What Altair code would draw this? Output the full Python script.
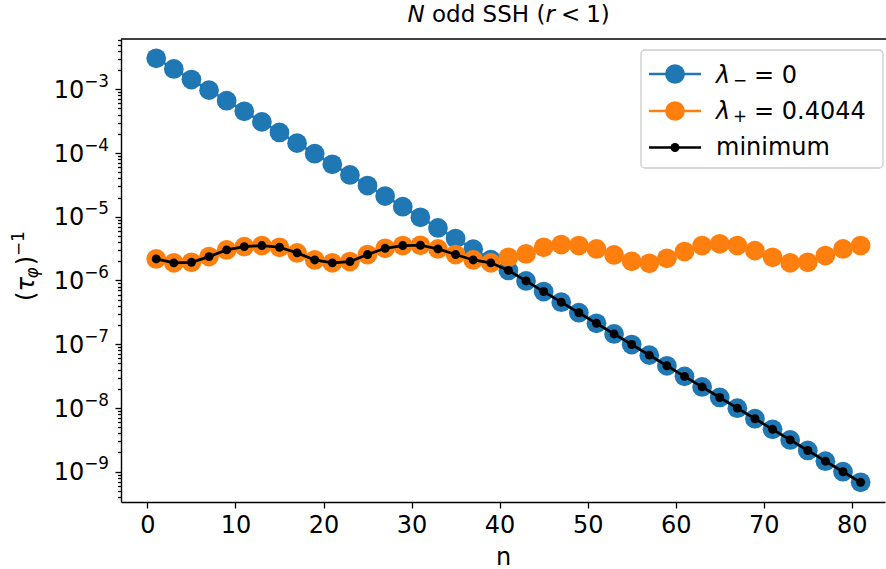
import altair as alt
import numpy as np
import pandas as pd

# ---- data -------------------------------------------------------------
n_values = list(range(1, 82, 2))

lam_minus = [
    3.06e-3, 2.09e-3, 1.42e-3, 9.70e-4, 6.62e-4, 4.51e-4, 3.08e-4, 2.10e-4,
    1.43e-4, 9.75e-5, 6.65e-5, 4.53e-5, 3.09e-5, 2.11e-5, 1.44e-5, 9.79e-6,
    6.68e-6, 4.55e-6, 3.10e-6, 2.12e-6, 1.44e-6, 9.84e-7, 6.71e-7, 4.57e-7,
    3.12e-7, 2.13e-7, 1.45e-7, 9.89e-8, 6.74e-8, 4.59e-8, 3.13e-8, 2.14e-8,
    1.46e-8, 9.93e-9, 6.77e-9, 4.62e-9, 3.15e-9, 2.15e-9, 1.46e-9, 9.98e-10,
    6.81e-10,
]

lam_plus = [
    2.18e-6, 1.89e-6, 1.93e-6, 2.37e-6, 3.02e-6, 3.40e-6, 3.53e-6, 3.32e-6,
    2.71e-6, 2.10e-6, 1.89e-6, 1.98e-6, 2.55e-6, 3.20e-6, 3.53e-6, 3.57e-6,
    3.13e-6, 2.55e-6, 2.10e-6, 1.89e-6, 2.31e-6, 2.61e-6, 3.32e-6, 3.66e-6,
    3.53e-6, 3.13e-6, 2.52e-6, 2.00e-6, 1.86e-6, 2.23e-6, 2.84e-6, 3.53e-6,
    3.76e-6, 3.53e-6, 2.94e-6, 2.31e-6, 1.89e-6, 1.93e-6, 2.46e-6, 3.13e-6,
    3.53e-6,
]

minimum = list(np.minimum(lam_minus, lam_plus))

x_ticks = [0, 10, 20, 30, 40, 50, 60, 70, 80]
y_exponents = [-9, -8, -7, -6, -5, -4, -3]

BLUE = "#1f77b4"
ORANGE = "#ff7f0e"
FONT = "DejaVu Sans"
FS = 24
SUB = FS * 0.7

records = []
for name, vals in (("minus", lam_minus), ("plus", lam_plus), ("min", minimum)):
    for n, v in zip(n_values, vals):
        records.append({"n": n, "series": name, "value": float(v)})
df = pd.DataFrame(records)
one = pd.DataFrame({"k": [0]})

# decade labels drawn as "10" plus a smaller raised exponent
ytick_df = pd.DataFrame({
    "value": [10.0 ** e for e in y_exponents],
    "base": ["10"] * len(y_exponents),
    "expo": ["−" + str(-e) for e in y_exponents],
})

# ---- geometry -----------------------------------------------------------
LEFT, TOP = 121, 39          # plot origin on the page
W, H = 764, 463

x_scale = alt.Scale(domain=[-3, 83.77], nice=False, zero=False)
y_scale = alt.Scale(type="log", domain=[3.344e-10, 6.155e-3], nice=False)

decades = [10.0 ** e for e in y_exponents]
minors = [m * 10.0 ** k for k in range(-10, -2) for m in range(2, 10)]
minors = [v for v in minors if 3.344e-10 <= v <= 6.155e-3]
y_ticks = sorted(decades + minors)

MAJOR = "abs(log(datum.value)/LN10 - round(log(datum.value)/LN10)) < 1e-6"

x_axis = alt.Axis(
    values=x_ticks, title="n", grid=False, tickSize=6, labelPadding=5,
    titlePadding=8, labelFontSize=FS, titleFontSize=FS,
)
y_axis = alt.Axis(
    values=y_ticks, title=None, grid=False, labels=False,
    tickSize={"condition": {"test": MAJOR, "value": 6}, "value": 3.5},
)


def enc(chart):
    return chart.encode(
        x=alt.X("n:Q", scale=x_scale, axis=x_axis),
        y=alt.Y("value:Q", scale=y_scale, axis=y_axis),
    )


def series(name, color, size, width):
    base = alt.Chart(df).transform_filter(alt.datum.series == name)
    line = enc(base.mark_line(color=color, strokeWidth=width))
    pts = enc(base.mark_circle(color=color, size=size, opacity=1))
    return [line, pts]


def txt(s, x, y, size=FS, style="normal", angle=0):
    # x, y are page coordinates; convert to plot coordinates
    return alt.Chart(one).mark_text(
        text=s, fontSize=size, fontStyle=style, angle=angle, align="left",
        baseline="alphabetic", font=FONT, color="black",
    ).encode(x=alt.value(x - LEFT), y=alt.value(y - TOP))


layers = []
layers += series("minus", BLUE, 390, 2.7)
layers += series("plus", ORANGE, 390, 2.7)
layers += series("min", "black", 80, 2.7)

# y tick labels: 10 with exponent, positioned through the y scale
LAB_RIGHT = 109
EXP_W = 24.8
layers.append(
    alt.Chart(ytick_df).mark_text(
        align="right", baseline="alphabetic", fontSize=FS, font=FONT,
        color="black", dy=8.7,
    ).encode(
        x=alt.value(LAB_RIGHT - EXP_W - LEFT),
        y=alt.Y("value:Q", scale=y_scale, axis=y_axis),
        text="base:N",
    )
)
layers.append(
    alt.Chart(ytick_df).mark_text(
        align="left", baseline="alphabetic", fontSize=SUB, font=FONT,
        color="black", dy=8.7 - 11,
    ).encode(
        x=alt.value(LAB_RIGHT - EXP_W - LEFT),
        y=alt.Y("value:Q", scale=y_scale, axis=y_axis),
        text="expo:N",
    )
)

# top spine
layers.append(
    alt.Chart(one).mark_rule(color="black", strokeWidth=1.4).encode(
        x=alt.value(0), x2=alt.value(W + 2), y=alt.value(0)
    )
)

# title: N odd SSH (r < 1)
TFS = 23
tx, ty = 407.5, 22
layers += [
    txt("N", tx, ty, size=TFS, style="italic"),
    txt("odd SSH (", tx + 24.5, ty, size=TFS),
    txt("r", tx + 137.9, ty, size=TFS, style="italic"),
    txt("<", tx + 153.4, ty, size=TFS),
    txt("1)", tx + 178.7, ty, size=TFS),
]

# y label: (tau_phi)^-1, rotated
bx, by = 34, 301
layers += [
    txt("(", bx, by, angle=270),
    txt("τ", bx, by - 9.4, style="italic", angle=270),
    txt("φ", bx + 4, by - 22.6, size=SUB, style="italic", angle=270),
    txt(")", bx, by - 35.7, angle=270),
    txt("−1", bx - 10, by - 45.1, size=SUB, angle=270),
]

# legend
layers.append(
    alt.Chart(one).mark_rect(
        fill="white", fillOpacity=0.8, stroke="#cccccc", strokeWidth=1.3,
        cornerRadius=4,
    ).encode(
        x=alt.value(641 - LEFT), x2=alt.value(883 - LEFT),
        y=alt.value(50 - TOP), y2=alt.value(168 - TOP),
    )
)
rows = [(74, BLUE, 390), (111, ORANGE, 390), (147.5, "black", 80)]
for cy, col, sz in rows:
    layers.append(
        alt.Chart(one).mark_rule(color=col, strokeWidth=2.7).encode(
            x=alt.value(649 - LEFT), x2=alt.value(701 - LEFT), y=alt.value(cy - TOP)
        )
    )
    layers.append(
        alt.Chart(one).mark_circle(color=col, size=sz, opacity=1).encode(
            x=alt.value(675 - LEFT), y=alt.value(cy - TOP)
        )
    )
layers += [
    txt("λ", 716, 83, style="italic"),
    txt("−", 733, 86, size=SUB),
    txt("= 0", 754, 83),
    txt("λ", 716, 119, style="italic"),
    txt("+", 733, 122, size=SUB),
    txt("= 0.4044", 754, 119),
    txt("minimum", 716, 155),
]

chart = (
    alt.layer(*layers)
    .properties(
        width=W, height=H, autosize="none",
        padding={"left": LEFT, "top": TOP, "right": 886 - LEFT - W, "bottom": 569 - TOP - H},
        background="white",
    )
    .configure_view(strokeWidth=0)
    .configure_axis(
        labelFont=FONT, titleFont=FONT, labelColor="black", titleColor="black",
        domainColor="black", tickColor="black", domainWidth=1.4, tickWidth=1.3,
        titleFontWeight="normal",
    )
)

chart.save("out.html", embed_options={"renderer": "svg", "actions": False})
